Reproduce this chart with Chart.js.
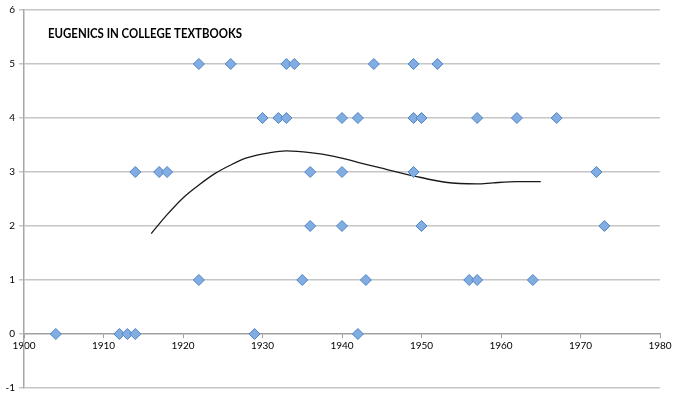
<!DOCTYPE html>
<html>
<head>
<meta charset="utf-8">
<script src="https://cdn.jsdelivr.net/npm/chart.js@4.4.1/dist/chart.umd.min.js"></script>
<style>
	html, body {margin: 0; padding: 0; background: #ffffff;}
	#wrap {width: 689px; height: 398px;}
</style>
</head>
<body>
<div id="wrap"><canvas id="chart"></canvas></div>
<script>
var chartTitle = 'EUGENICS IN COLLEGE TEXTBOOKS';

// one entry per textbook: year and count
var bookYears = [1904, 1912, 1913, 1914, 1929, 1942,
	1922, 1935, 1943, 1956, 1957, 1964,
	1936, 1940, 1950, 1973,
	1914, 1917, 1918, 1936, 1940, 1949, 1972,
	1930, 1932, 1933, 1940, 1942, 1949, 1950, 1957, 1962, 1967,
	1922, 1926, 1933, 1934, 1944, 1949, 1952];

var bookCounts = [0, 0, 0, 0, 0, 0,
	1, 1, 1, 1, 1, 1,
	2, 2, 2, 2,
	3, 3, 3, 3, 3, 3, 3,
	4, 4, 4, 4, 4, 4, 4, 4, 4, 4,
	5, 5, 5, 5, 5, 5, 5];

// trend line
var trendYears = [1916, 1918, 1920, 1922, 1924, 1926, 1928, 1931, 1933, 1936, 1939, 1942, 1945, 1949, 1953, 1957, 1959, 1962, 1965];
var trendValues = [1.86, 2.21, 2.52, 2.76, 2.97, 3.13, 3.26, 3.36, 3.39, 3.36, 3.29, 3.18, 3.07, 2.93, 2.81, 2.78, 2.80, 2.82, 2.82];

var xTicks = [1900, 1910, 1920, 1930, 1940, 1950, 1960, 1970, 1980];
var yTicks = [-1, 0, 1, 2, 3, 4, 5, 6];

var points = [];
for (var i = 0; i < bookYears.length; i++)
{
	points.push({x: bookYears[i], y: bookCounts[i]});
}

var trend = [];
for (var j = 0; j < trendYears.length; j++)
{
	trend.push({x: trendYears[j], y: trendValues[j]});
}

var titlePlugin =
{
	id: 'titleText',
	afterDraw: function (chart)
	{
		var ctx = chart.ctx;
		ctx.save();
		ctx.font = 'bold 12.5px Lato';
		ctx.fillStyle = '#000000';
		ctx.textBaseline = 'middle';
		ctx.fillText(chartTitle, chart.chartArea.left + 24, chart.chartArea.top + 24, 194);
		ctx.restore();
	}
};

Chart.defaults.font.family = 'Lato';
Chart.defaults.font.size = 10;
Chart.defaults.color = '#000000';

new Chart(document.getElementById('chart'),
{
	type: 'scatter',
	data:
	{
		datasets:
		[
			{
				label: 'books',
				data: points,
				pointStyle: 'rectRot',
				pointRadius: 5.5,
				pointHoverRadius: 5.5,
				backgroundColor: '#82ade2',
				borderColor: '#4f84c4',
				borderWidth: 1,
				order: 1
			},
			{
				type: 'line',
				label: 'trend',
				data: trend,
				borderColor: '#1a1a1a',
				borderWidth: 1.3,
				pointRadius: 0,
				cubicInterpolationMode: 'monotone',
				fill: false,
				order: 2
			}
		]
	},
	options:
	{
		responsive: true,
		maintainAspectRatio: false,
		animation: false,
		layout: {padding: {top: 9, right: 29, bottom: 9, left: 0}},
		plugins:
		{
			legend: {display: false},
			tooltip: {enabled: false}
		},
		scales:
		{
			x:
			{
				type: 'linear',
				position: {y: 0},
				min: xTicks[0],
				max: xTicks[xTicks.length - 1],
				afterBuildTicks: function (scale) {scale.ticks = xTicks.map(function (v) {return {value: v}})},
				ticks:
				{
					padding: 2,
					maxRotation: 0,
					callback: function (value) {return String(value)}
				},
				grid:
				{
					drawOnChartArea: false,
					drawTicks: true,
					tickLength: 4,
					color: '#a0a0a0'
				},
				border: {color: '#a0a0a0', width: 1.2}
			},
			y:
			{
				min: yTicks[0],
				max: yTicks[yTicks.length - 1],
				afterBuildTicks: function (scale) {scale.ticks = yTicks.map(function (v) {return {value: v}})},
				afterFit: function (scale) {scale.width = 24},
				ticks: {padding: 4},
				grid:
				{
					color: '#c6c6c6',
					lineWidth: 1.5,
					tickLength: 5
				},
				border: {color: '#a6a6a6', width: 1.5}
			}
		}
	},
	plugins: [titlePlugin]
});
</script>
</body>
</html>
